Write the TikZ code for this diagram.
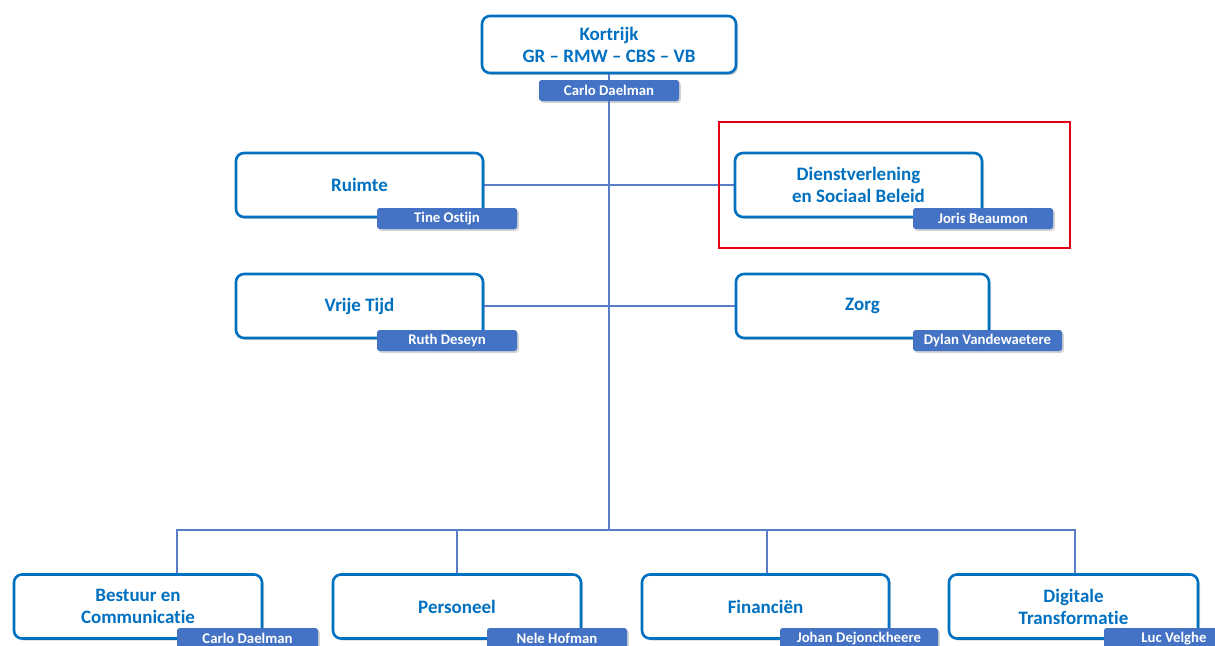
\documentclass[tikz,border=0pt]{standalone}
\usepackage{fontspec}
\setmainfont{Carlito}[Ligatures=NoCommon]
\usetikzlibrary{shadows}
\definecolor{dienstblauw}{RGB}{0,112,192}
\definecolor{naamblauw}{RGB}{68,114,196}
\definecolor{lijnblauw}{RGB}{90,125,200}
\definecolor{kaderrood}{RGB}{228,0,20}

\begin{document}
\begin{tikzpicture}[x=0.02cm,y=-0.02cm,
    dienst/.style={draw=dienstblauw,line width=2.6pt*0.567,rounded corners=8*0.567pt,fill=white,
      minimum width=247*0.02cm,minimum height=64*0.02cm,align=center,text=dienstblauw,
      font=\bfseries\fontsize{10.8}{12.6}\selectfont,
      drop shadow={shadow xshift=1.2pt,shadow yshift=-1.2pt,opacity=0.35,fill=gray}},
    naam/.style={fill=naamblauw,rounded corners=1.5pt,text=white,inner sep=0pt,
      minimum width=140*0.02cm,minimum height=21*0.02cm,
      font=\bfseries\fontsize{8.4}{9}\selectfont,
      drop shadow={shadow xshift=1pt,shadow yshift=-1pt,opacity=0.35,fill=gray}},
    lijn/.style={draw=lijnblauw,line width=0.6pt}]
  \useasboundingbox (0,0) rectangle (1215,646);
  \clip (0,0) rectangle (1215,646);
  % connectors first, boxes on top
  \coordinate (bus) at (609,530);
  \coordinate (kop) at (609,73);
  \draw[lijn] (kop) -- (bus);
  \draw[lijn] (483,185) coordinate (r1) -- (735,185) coordinate (d1);
  \draw[lijn] (483,306) coordinate (v1) -- (736,306) coordinate (z1);
  \draw[lijn] (177,574) coordinate (b1) |- (bus) -| (1075,574) coordinate (t1);
  \draw[lijn] (457,574) coordinate (p1) -- (p1 |- bus);
  \draw[lijn] (767,574) coordinate (f1) -- (f1 |- bus);
  % top
  \node[dienst,minimum width=254*0.02cm,minimum height=57*0.02cm] (kortrijk) at (609,44.5) {Kortrijk\\GR -- RMW -- CBS -- VB};
  \node[naam] (kortrijk-naam) at (609,90.5) {Carlo Daelman};
  % middle
  \node[dienst] (ruimte) at (359.5,185) {Ruimte};
  \node[naam] (ruimte-naam) at (447,218.5) {Tine Ostijn};
  \node[dienst] (dvsb) at (858.5,185) {Dienstverlening\\en Sociaal Beleid};
  \node[naam] (dvsb-naam) at (983,218.5) {Joris Beaumon};
  \node[dienst] (vrijetijd) at (359.5,306) {Vrije Tijd};
  \node[naam] (vrijetijd-naam) at (447,340.5) {Ruth Deseyn};
  \node[dienst,minimum width=253*0.02cm] (zorg) at (862.5,306) {Zorg};
  \node[naam,minimum width=149*0.02cm] (zorg-naam) at (987.5,340.5) {Dylan Vandewaetere};
  % bottom row
  \node[dienst,minimum width=248*0.02cm] (bestuur) at (138,606.5) {Bestuur en\\Communicatie};
  \node[naam,minimum width=141*0.02cm] (bestuur-naam) at (247.5,638.5) {Carlo Daelman};
  \node[dienst,minimum width=248*0.02cm] (personeel) at (457,606.5) {Personeel};
  \node[naam] (personeel-naam) at (557,638.5) {Nele Hofman};
  \node[dienst] (financien) at (765.5,606.5) {Financiën};
  \node[naam,minimum width=158*0.02cm] (financien-naam) at (859,638.5) {Johan Dejonckheere};
  \node[dienst,minimum width=249*0.02cm] (digitale) at (1073.5,606.5) {Digitale\\Transformatie};
  \node[naam,minimum width=140*0.02cm] (digitale-naam) at (1174,638.5) {Luc Velghe};
  % highlight
  \draw[kaderrood,line width=1.2pt] (719,122) rectangle (1070,248);
\end{tikzpicture}
\end{document}
